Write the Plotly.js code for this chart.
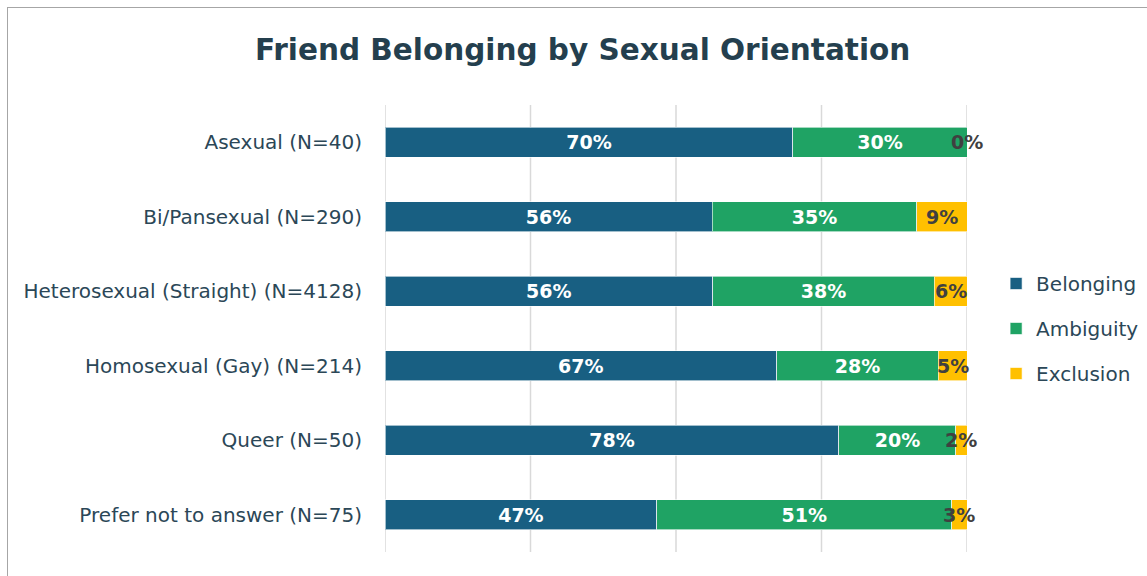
<!DOCTYPE html>
<html>
<head>
<meta charset="utf-8">
<script src="https://cdn.plot.ly/plotly-3.0.1.min.js"></script>
<style>
html,body{margin:0;padding:0;background:#fff;}
#wrap{position:relative;width:1147px;height:576px;overflow:hidden;}
#chart{position:absolute;left:0;top:0;width:1147px;height:576px;}
#frame{position:absolute;left:7px;top:7px;width:1200px;height:600px;border-left:1.5px solid #A6A6A6;border-top:1.5px solid #A6A6A6;pointer-events:none;}
</style>
</head>
<body>
<div id="wrap"><div id="chart"></div><div id="frame"></div></div>
<script>
var categories = ["Asexual (N=40)", "Bi/Pansexual (N=290)", "Heterosexual (Straight) (N=4128)", "Homosexual (Gay) (N=214)", "Queer (N=50)", "Prefer not to answer (N=75)"];
var belonging = [70.1, 56.2, 56.3, 67.3, 78.0, 46.7];
var ambiguity = [29.9, 35.2, 38.1, 27.8, 20.1, 50.7];
var exclusion = [0.0, 8.6, 5.6, 4.9, 1.9, 2.6];
var seriesNames = ["Belonging", "Ambiguity", "Exclusion"];
var gridTicks = [0, 25, 50, 75, 100];
var colors = ["#185F82", "#1FA364", "#FFC000"];

var labelFont = "'DejaVu Sans', 'Open Sans', sans-serif";

function barTrace(vals, i, showText) {
  return {
    type: 'bar', orientation: 'h', name: seriesNames[i],
    y: categories, x: vals,
    marker: {color: colors[i], line: {color: 'rgba(255,255,255,0.6)', width: 1}},
    text: showText ? vals.map(function(v){return Math.round(v) + '%';}) : null,
    textposition: showText ? 'inside' : 'none',
    insidetextanchor: 'middle',
    textfont: {family: labelFont, size: 19, color: '#FFFFFF', weight: 'bold'},
    hoverinfo: 'x+name',
    legendgroup: 'g' + i
  };
}

var traces = [
  barTrace(belonging, 0, true),
  barTrace(ambiguity, 1, true),
  barTrace(exclusion, 2, false)
];

var annotations = exclusion.map(function(v, k){
  return {
    x: belonging[k] + ambiguity[k] + v / 2, y: categories[k],
    xref: 'x', yref: 'y', showarrow: false,
    text: '<b>' + Math.round(v) + '%</b>',
    xanchor: 'center', yanchor: 'middle',
    font: {family: labelFont, size: 19, color: '#404040'}
  };
});

var shapes = gridTicks.map(function(t){
  return {type: 'line', xref: 'x', yref: 'paper', x0: t, x1: t, y0: 0, y1: 1,
          line: {color: '#D9D9D9', width: 1.5}, layer: 'below'};
});

var layout = {
  width: 1147, height: 576,
  paper_bgcolor: '#ffffff', plot_bgcolor: '#ffffff',
  barmode: 'stack', bargap: 0.6,
  margin: {l: 385, r: 180, t: 105, b: 24, autoexpand: false},
  title: {
    text: '<b>Friend Belonging by Sexual Orientation</b>',
    x: 0.508, xanchor: 'center', y: 0.913, yanchor: 'middle',
    font: {family: labelFont, size: 29.5, color: '#243F4E'}
  },
  xaxis: {
    range: [0, 100], tickvals: gridTicks, showticklabels: false,
    showgrid: false, zeroline: false, showline: false, fixedrange: true
  },
  yaxis: {
    autorange: 'reversed', type: 'category',
    tickfont: {family: labelFont, size: 20, color: '#2B4757'},
    ticks: '', ticklen: 0, ticklabelstandoff: 22, showgrid: false, zeroline: false, showline: false,
    automargin: false, fixedrange: true
  },
  legend: {
    x: 1.05, xanchor: 'left', y: 0.5, yanchor: 'middle',
    font: {family: labelFont, size: 20, color: '#2B4757'},
    tracegroupgap: 16, itemwidth: 30, bgcolor: 'rgba(0,0,0,0)'
  },
  showlegend: true,
  shapes: shapes,
  annotations: annotations,
  uniformtext: {mode: 'show', minsize: 19}
};

Plotly.newPlot('chart', traces, layout, {displayModeBar: false, staticPlot: true});
</script>
</body>
</html>
